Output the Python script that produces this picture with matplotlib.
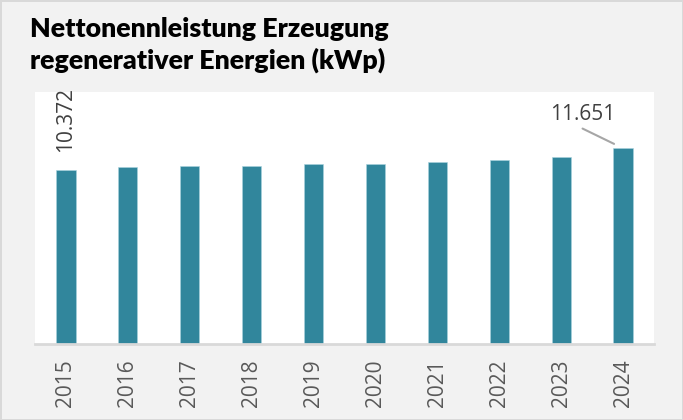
import matplotlib
matplotlib.use("Agg")
import matplotlib.pyplot as plt

years = ["2015", "2016", "2017", "2018", "2019", "2020", "2021", "2022", "2023", "2024"]
values = [10372, 10560, 10580, 10620, 10720, 10740, 10860, 10960, 11115, 11651]
label_first = "10.372"
label_last = "11.651"

W, H = 683, 420
fig = plt.figure(figsize=(W / 100, H / 100), dpi=100)
fig.patch.set_facecolor("#f2f2f2")
fig.patch.set_edgecolor("#d9d9d9")
fig.patch.set_linewidth(2)

ax = fig.add_axes([35 / W, (H - 344) / H, (654 - 35) / W, (344 - 92) / H])
ax.set_facecolor("white")

x = list(range(len(years)))
ax.bar(x, values, width=0.31, color="#31869c", edgecolor="#a9d3de", linewidth=0.4, zorder=2)

ax.set_xlim(-0.5, len(years) - 0.5)
ax.set_ylim(0, 15000)
ax.set_yticks([])
ax.set_xticks(x)
ax.set_xticklabels(years, rotation=90, fontsize=15, color="#595959", family="Open Sans")
ax.tick_params(axis="x", length=0, pad=11)

for side in ("top", "left", "right"):
    ax.spines[side].set_visible(False)
ax.spines["bottom"].set_color("#d9d9d9")
ax.spines["bottom"].set_linewidth(2)

# value label for the first year, written vertically above the bar
ax.annotate(label_first, xy=(0, values[0]), xytext=(0, 18), textcoords="offset pixels",
            rotation=90, ha="center", va="bottom", fontsize=15, color="#404040",
            family="Open Sans", annotation_clip=False)

# value label for the last year with a leader line
ax.annotate(label_last, xy=(9, values[9]), xytext=(-40.5, 28.7), textcoords="offset pixels",
            ha="center", va="baseline", fontsize=15, color="#404040",
            family="Open Sans", annotation_clip=False)
ax.annotate("", xy=(9, values[9]), xytext=(-40.5, 19.7), textcoords="offset pixels",
            arrowprops=dict(arrowstyle="-", color="#a6a6a6", lw=1.5,
                            shrinkA=0, shrinkB=7.2),
            annotation_clip=False)

title_kw = dict(fontsize=19.3, fontweight="heavy", family="Lato", color="#000000",
                ha="left", va="baseline")
fig.text(30 / W, (H - 37) / H, "Nettonennleistung Erzeugung", **title_kw)
fig.text(30 / W, (H - 69) / H, "regenerativer Energien (kWp)", **title_kw)

fig.savefig("out.png", dpi=100, facecolor=fig.get_facecolor(), edgecolor=fig.get_edgecolor())
